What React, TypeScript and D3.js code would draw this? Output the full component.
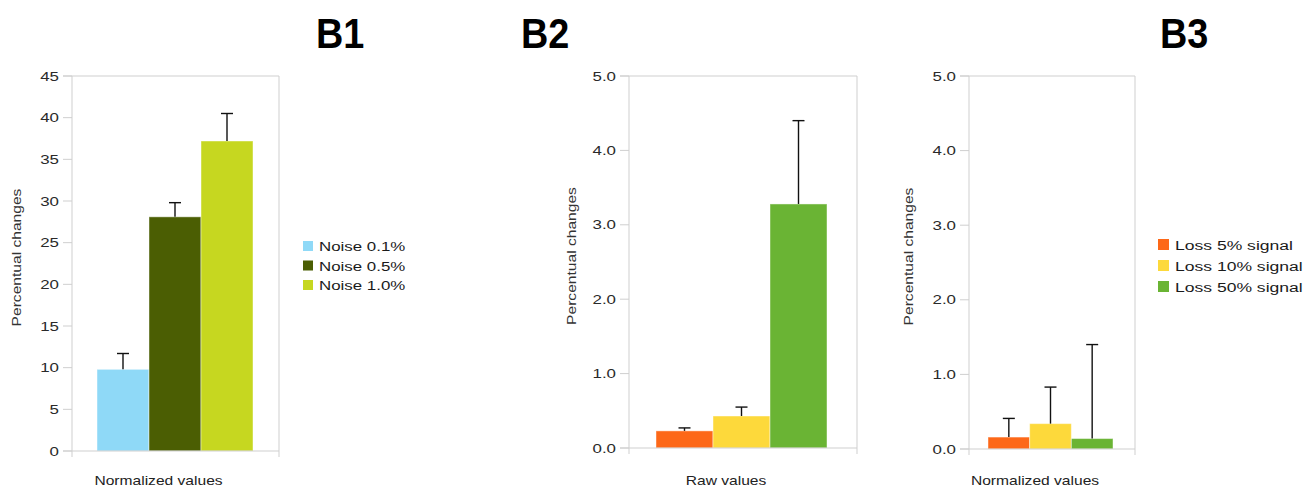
import React from "react";
import * as d3 from "d3";

// ---- Data ----
const b1Series = ["Noise 0.1%", "Noise 0.5%", "Noise 1.0%"];
const b1Values = [9.8, 28.1, 37.2];
const b1Errors = [1.9, 1.7, 3.3];
const b1Colors = ["#8fd9f7", "#4b5e03", "#c6d720"];
const b1Ticks = [0, 5, 10, 15, 20, 25, 30, 35, 40, 45];

const lossSeries = ["Loss 5% signal", "Loss 10% signal", "Loss 50% signal"];
const lossColors = ["#fd6818", "#fdd93b", "#6ab434"];

const b2Values = [0.23, 0.43, 3.28];
const b2Errors = [0.04, 0.12, 1.12];
const b3Values = [0.16, 0.34, 0.14];
const b3Errors = [0.25, 0.49, 1.26];
const lossTicks = [0, 1, 2, 3, 4, 5];

const yTitle = "Percentual changes";
const panelTitles = ["B1", "B2", "B3"];

const FONT = "'Liberation Sans', Arial, Helvetica, sans-serif";
const SX = 1.3;

type TProps = {
  x: number;
  y: number;
  size: number;
  anchor?: "start" | "middle" | "end";
  rotate?: boolean;
  sx?: number;
  fill?: string;
  weight?: string;
  children: React.ReactNode;
};

function T({ x, y, size, anchor = "start", rotate = false, sx = SX, fill = "#222", weight = "normal", children }: TProps) {
  const tr = `translate(${x},${y})${rotate ? " rotate(-90)" : ""} scale(${sx},1)`;
  return (
    <text transform={tr} fontSize={size} textAnchor={anchor} fill={fill} fontFamily={FONT} fontWeight={weight}>
      {children}
    </text>
  );
}

type PanelProps = {
  left: number;
  right: number;
  top: number;
  bottom: number;
  barStart: number;
  barEnd: number;
  yMax: number;
  ticks: number[];
  fmt: (v: number) => string;
  series: string[];
  values: number[];
  errors: number[];
  colors: string[];
  xTitle: string;
  yTitleX: number;
  showLegend: boolean;
  legendX: number;
  legendY: number;
  legendStep: number;
  legendSize: number;
  legendSq: number;
};

function Panel(p: PanelProps) {
  const y = d3.scaleLinear().domain([0, p.yMax]).range([p.bottom, p.top]);
  const x = d3.scaleBand<string>().domain(p.series).range([p.barStart, p.barEnd]).paddingInner(0).paddingOuter(0);
  const grid = "#cfcfcf";
  const cx = (p.left + p.right) / 2;
  const cy = (p.top + p.bottom) / 2;
  return (
    <g>
      {/* frame */}
      <line x1={p.left - 9} x2={p.right} y1={y(p.yMax)} y2={y(p.yMax)} stroke={grid} />
      <line x1={p.right} x2={p.right} y1={p.top} y2={p.bottom + 6} stroke={grid} />
      <line x1={p.left} x2={p.left} y1={p.top} y2={p.bottom + 6} stroke={grid} />
      {p.ticks.map((t) => (
        <g key={t}>
          <line x1={p.left - 9} x2={p.left} y1={y(t)} y2={y(t)} stroke={grid} />
          <T x={p.left - 13} y={y(t) + 4.5} size={13} anchor="end" fill="#2a2a2a">
            {p.fmt(t)}
          </T>
        </g>
      ))}
      {/* bars */}
      {p.series.map((s, i) => {
        const x0 = x(s)!;
        const w = x.bandwidth();
        const v = p.values[i];
        const e = p.errors[i];
        const mx = x0 + w / 2;
        return (
          <g key={s}>
            <rect x={x0} y={y(v)} width={w} height={y(0) - y(v)} fill={p.colors[i]} stroke="rgba(255,255,255,0.45)" strokeWidth={1} />
            <line x1={mx} x2={mx} y1={y(v)} y2={y(v + e)} stroke="#111" strokeWidth={1.4} />
            <line x1={mx - 6} x2={mx + 6} y1={y(v + e)} y2={y(v + e)} stroke="#111" strokeWidth={1.4} />
          </g>
        );
      })}
      {/* bottom axis line over bars */}
      <line x1={p.left - 9} x2={p.right} y1={p.bottom} y2={p.bottom} stroke={grid} />
      <T x={cx - 17} y={485} size={12} anchor="middle" fill="#222">
        {p.xTitle}
      </T>
      <T x={p.yTitleX} y={cy - 6} size={12} anchor="middle" rotate fill="#333">
        {yTitle}
      </T>
      {p.showLegend &&
        p.series.map((s, i) => (
          <g key={"lg" + s}>
            <rect
              x={p.legendX}
              y={p.legendY + i * p.legendStep - p.legendSq / 2}
              width={p.legendSq}
              height={p.legendSq}
              fill={p.colors[i]}
            />
            <T x={p.legendX + p.legendSq + 6} y={p.legendY + i * p.legendStep + 5} size={p.legendSize} fill="#1a1a1a">
              {s}
            </T>
          </g>
        ))}
    </g>
  );
}

export default function App() {
  const int = (v: number) => d3.format("d")(v);
  const one = (v: number) => d3.format(".1f")(v);
  return (
    <svg
      width={1307}
      height={488}
      viewBox="0 0 1307 488"
      style={{ position: "absolute", left: 0, top: 0, background: "#fff" }}
    >
      <rect width={1307} height={488} fill="#fff" />
      <T x={316} y={48} size={42} sx={0.9} weight="bold" fill="#000">{panelTitles[0]}</T>
      <T x={521} y={48} size={42} sx={0.9} weight="bold" fill="#000">{panelTitles[1]}</T>
      <T x={1160} y={48} size={42} sx={0.9} weight="bold" fill="#000">{panelTitles[2]}</T>

      <Panel
        left={72}
        right={279}
        top={76}
        bottom={451}
        barStart={97}
        barEnd={253}
        yMax={45}
        ticks={b1Ticks}
        fmt={int}
        series={b1Series}
        values={b1Values}
        errors={b1Errors}
        colors={b1Colors}
        xTitle="Normalized values"
        yTitleX={21}
        showLegend={true}
        legendX={303}
        legendY={246}
        legendStep={19.5}
        legendSize={13}
        legendSq={10}
      />
      <Panel
        left={629}
        right={857}
        top={76}
        bottom={448}
        barStart={656}
        barEnd={827}
        yMax={5}
        ticks={lossTicks}
        fmt={one}
        series={lossSeries}
        values={b2Values}
        errors={b2Errors}
        colors={lossColors}
        xTitle="Raw values"
        yTitleX={576}
        showLegend={false}
        legendX={0}
        legendY={0}
        legendStep={0}
        legendSize={13}
        legendSq={10}
      />
      <Panel
        left={969}
        right={1135}
        top={76}
        bottom={449}
        barStart={988}
        barEnd={1113}
        yMax={5}
        ticks={lossTicks}
        fmt={one}
        series={lossSeries}
        values={b3Values}
        errors={b3Errors}
        colors={lossColors}
        xTitle="Normalized values"
        yTitleX={913}
        showLegend={true}
        legendX={1158}
        legendY={244.5}
        legendStep={21}
        legendSize={13.5}
        legendSq={11}
      />
    </svg>
  );
}
